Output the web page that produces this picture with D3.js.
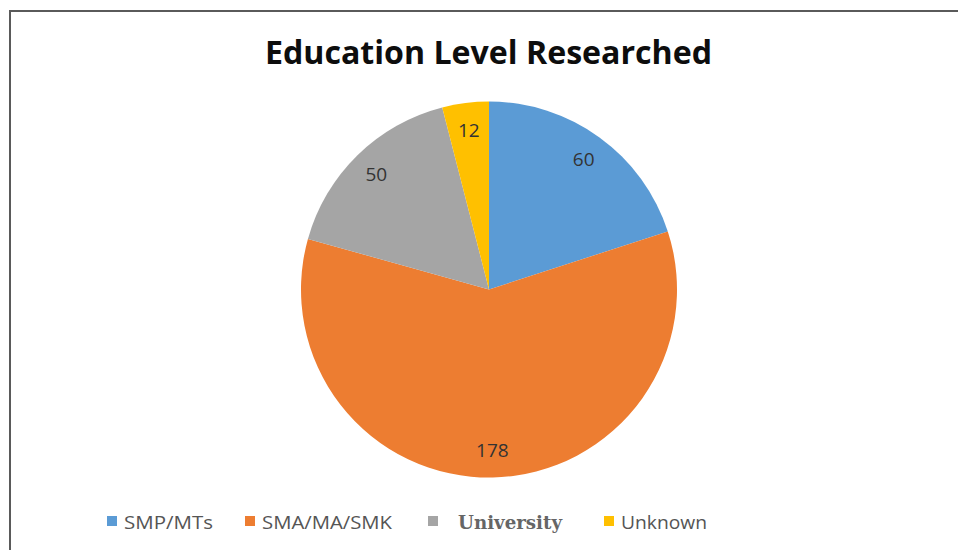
<!DOCTYPE html>
<html>
<head>
<meta charset="utf-8">
<script src="https://cdn.jsdelivr.net/npm/d3@7"></script>
<style>
  body { margin: 0; background: #fff; }
  svg { display: block; }
</style>
</head>
<body>
<div id="plot"></div>
<script>
// chart data
const categories = ["SMP/MTs", "SMA/MA/SMK", "University", "Unknown"];
const values = [60, 178, 50, 12];
const colors = ["#5B9BD5", "#ED7D31", "#A5A5A5", "#FFC000"];
const title = "Education Level Researched";

// layout
const width = 958, height = 550;
const cx = 489, cy = 289.5, radius = 188;
const legendX = [107, 245, 428, 604];     // left edge of each swatch
const legendTextX = [124, 262, 458, 621];
const legendTextW = [89, 130, 104, 86];
const legendFonts = ["'Open Sans', sans-serif", "'Open Sans', sans-serif", "'DejaVu Serif', serif", "'Open Sans', sans-serif"];

const svg = d3.select("#plot").append("svg")
    .attr("width", width)
    .attr("height", height)
    .attr("viewBox", [0, 0, width, height]);

// frame
svg.append("rect")
    .attr("x", 10).attr("y", 11)
    .attr("width", width + 20).attr("height", height + 20)
    .attr("fill", "none")
    .attr("stroke", "#5a5a5a")
    .attr("stroke-width", 2);

svg.append("text")
    .attr("x", 265).attr("y", 64)
    .attr("textLength", 447)
    .attr("lengthAdjust", "spacingAndGlyphs")
    .attr("font-family", "'Open Sans', sans-serif")
    .attr("font-weight", "bold")
    .attr("font-size", 33)
    .attr("fill", "#0d0d0d")
    .text(title);

const pie = d3.pie().sort(null).value(d => d);
const arcs = pie(values);
const arc = d3.arc().innerRadius(0).outerRadius(radius);
const labelArc = d3.arc().innerRadius(161).outerRadius(161);

const g = svg.append("g").attr("transform", `translate(${cx},${cy})`);

g.selectAll("path")
  .data(arcs)
  .join("path")
    .attr("d", arc)
    .attr("fill", (d, i) => colors[i]);

g.selectAll("text")
  .data(arcs)
  .join("text")
    .attr("transform", d => `translate(${labelArc.centroid(d)})`)
    .attr("text-anchor", "middle")
    .attr("dy", "0.36em")
    .attr("font-family", "'Open Sans', sans-serif")
    .attr("font-size", 19)
    .attr("fill", "#333")
    .text(d => d.data);

// legend
const legend = svg.append("g");
categories.forEach((c, i) => {
  legend.append("rect")
      .attr("x", legendX[i]).attr("y", 516)
      .attr("width", 10).attr("height", 10)
      .attr("fill", colors[i]);
  legend.append("text")
      .attr("x", legendTextX[i]).attr("y", 529)
      .attr("textLength", legendTextW[i])
      .attr("lengthAdjust", "spacingAndGlyphs")
      .attr("font-family", legendFonts[i])
      .attr("font-weight", c === "University" ? "bold" : 500)
      .attr("font-size", 18)
      .attr("fill", c === "University" ? "#666" : "#555")
      .text(c);
});
</script>
</body>
</html>
